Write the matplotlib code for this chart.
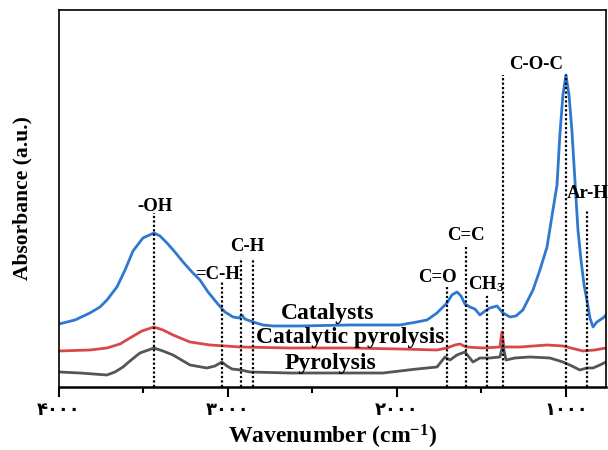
import numpy as np
import matplotlib
matplotlib.use("Agg")
import matplotlib.pyplot as plt

plt.rcParams['font.family'] = ['Liberation Serif', 'DejaVu Sans']
plt.rcParams['font.weight'] = 'bold'
plt.rcParams['mathtext.fontset'] = 'custom'
plt.rcParams['mathtext.rm'] = 'Liberation Serif:bold'
plt.rcParams['mathtext.it'] = 'Liberation Serif:bold'
plt.rcParams['mathtext.bf'] = 'Liberation Serif:bold'

# FTIR spectra, wavenumber (cm-1) vs absorbance (arbitrary offset units)
cat_wn = [4000, 3905, 3817, 3757, 3716, 3657, 3609, 3562, 3503, 3438, 3402, 3361,
          3314, 3266, 3213, 3166, 3118, 3065, 3018, 2970, 2935, 2917, 2900, 2852,
          2793, 2734, 2574, 2278, 1982, 1882, 1822, 1763, 1728, 1704, 1675, 1645,
          1621, 1598, 1568, 1539, 1509, 1479, 1450, 1408, 1373, 1331, 1296, 1255,
          1225, 1195, 1154, 1112, 1077, 1053, 1036, 1018, 1000, 982, 965, 947,
          929, 911, 893, 876, 858, 840, 817, 799, 781, 763]
cat_abs = [63, 67, 74, 80, 87, 100, 117, 136, 149, 154, 151, 144,
           135, 125, 115, 107, 95, 84, 75, 70, 69, 72, 68, 65,
           62, 61, 61, 62, 62, 65, 67, 74, 80, 84, 92, 95,
           91, 83, 80, 78, 72, 76, 79, 81, 74, 70, 71, 77,
           87, 97, 117, 140, 177, 202, 252, 292, 312, 292, 257, 207,
           157, 127, 102, 87, 69, 60, 65, 67, 69, 72]

catpyr_wn = [4000, 3817, 3716, 3639, 3580, 3509, 3438, 3385, 3325, 3225, 3107, 2929,
             2633, 2278, 1982, 1763, 1704, 1657, 1627, 1592, 1491, 1391, 1379, 1367,
             1272, 1112, 1018, 947, 900, 829, 763]
catpyr_abs = [36, 37, 39, 43, 49, 56, 60, 57, 52, 45, 42, 40,
              39, 39, 38, 37, 39, 42, 43, 40, 39, 40, 55, 40,
              40, 42, 41, 38, 36, 37, 39]

pyr_wn = [4000, 3876, 3716, 3669, 3621, 3580, 3521, 3438, 3385, 3325, 3225, 3124,
          3077, 3036, 3006, 2976, 2923, 2870, 2633, 2278, 2083, 1882, 1763, 1716,
          1686, 1645, 1598, 1550, 1509, 1450, 1391, 1373, 1355, 1302, 1213, 1095,
          1018, 965, 918, 876, 840, 799, 763]
pyr_abs = [15, 14, 12, 15, 20, 26, 34, 39, 36, 32, 22, 19,
           21, 25, 21, 18, 17, 15, 14, 14, 14, 18, 20, 30,
           27, 32, 35, 25, 29, 29, 30, 42, 27, 29, 30, 29,
           25, 21, 17, 19, 19, 22, 25]

# assigned bands
band_names = ['-OH', '=C-H', 'C-H', 'C-H', 'C=O', 'C=C', 'CH$_3$', 'C-O-C', 'C-O-C', 'Ar-H']
band_wn = [3438, 3036, 2923, 2852, 1704, 1592, 1467, 1373, 1000, 876]

series_names = ['Catalysts', 'Catalytic pyrolysis', 'Pyrolysis']

# layout: top of each marker line, and where each band label sits
line_top = [174, 105, 129, 129, 100, 142, 92, 312, 312, 177]
label_pos = {'-OH': (3432, 180), '=C-H': (3059, 112), 'C-H': (2888, 140),
             'C=O': (1763, 109), 'C=C': (1592, 151), 'CH$_3$': (1473, 103),
             'C-O-C': (1178, 322), 'Ar-H': (870, 193)}
series_pos = [(2408, 73), (2278, 49), (2396, 23)]

fig = plt.figure(figsize=(6.08, 4.5), dpi=100)
ax = fig.add_axes([0.097, 0.14, 0.9, 0.838])

ax.plot(cat_wn, cat_abs, color='#2e78d0', lw=2)
ax.plot(catpyr_wn, catpyr_abs, color='#d94848', lw=2)
ax.plot(pyr_wn, pyr_abs, color='#555555', lw=2)

for wn, top in zip(band_wn, line_top):
    ax.plot([wn, wn], [0, top], color='black', lw=1.6, linestyle=(0, (1, 1)))

for name, (x, y) in label_pos.items():
    ax.text(x, y, name, ha='center', va='center', fontsize=13.5,
            fontweight='bold', clip_on=False)

for name, (x, y) in zip(series_names, series_pos):
    ax.text(x, y, name, ha='center', va='center', fontsize=17, fontweight='bold')

ax.set_xlim(4000, 762)
ax.set_ylim(0, 377)
ax.set_yticks([])
ax.set_xticks([4000, 3000, 2000, 1000])
ax.set_xticks([3500, 2500, 1500], minor=True)
ax.set_xticklabels(['۴۰۰۰', '۳۰۰۰', '۲۰۰۰', '۱۰۰۰'], family=['DejaVu Sans'],
                   fontweight='bold', fontsize=13)
ax.tick_params(axis='x', which='major', direction='out', length=7, width=1.5, pad=3)
ax.tick_params(axis='x', which='minor', direction='out', length=4, width=1.5)
for sp in ax.spines.values():
    sp.set_linewidth(1.2)
ax.spines['bottom'].set_linewidth(1.8)

ax.set_xlabel('Wavenumber (cm$^{-1}$)', fontsize=17, fontweight='bold', labelpad=3)
ax.set_ylabel('Absorbance (a.u.)', fontsize=15.5, fontweight='bold', labelpad=19)

fig.savefig('out.png', dpi=100)
